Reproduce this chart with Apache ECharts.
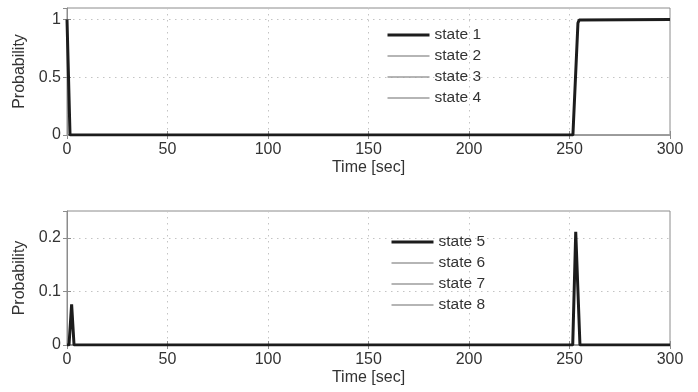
<!DOCTYPE html>
<html>
<head>
<meta charset="utf-8">
<script src="https://cdn.jsdelivr.net/npm/echarts@6/dist/echarts.min.js"></script>
<style>
  html, body { margin: 0; padding: 0; background: #ffffff; }
  #chart { width: 698px; height: 392px; }
</style>
</head>
<body>
<div id="chart"></div>
<script>
// State probabilities over time, [time in sec, probability]
const topNames = ['state 1', 'state 2', 'state 3', 'state 4'];
const bottomNames = ['state 5', 'state 6', 'state 7', 'state 8'];

const state1 = [[0, 1], [1.5, 0], [251.7, 0], [254.2, 0.97], [254.8, 0.995], [255.6, 1], [300, 1]];
const state2 = [[0, 0], [300, 0]];
const state3 = [[0, 0], [300, 0]];
const state4 = [[0, 0], [300, 0]];

const state5 = [[0, 0], [1, 0], [2.3, 0.076], [3.5, 0], [251.6, 0], [253.1, 0.211], [255.2, 0], [300, 0]];
const state6 = [[0, 0], [300, 0]];
const state7 = [[0, 0], [300, 0]];
const state8 = [[0, 0], [300, 0]];

const timeMin = 0, timeMax = 300, timeStep = 50;
const topYMax = 1.1, topYStep = 0.5;
const bottomYMax = 0.25, bottomYStep = 0.1;

const FONT = 'Liberation Sans, Arial, Helvetica, sans-serif';
const TEXT = '#333333';
const FRAME = '#8c8c8c';
const DARK = '#1c1c1c';
const GRAY = '#9c9c9c';

const dotted = { color: '#c4c4c4', width: 1, type: [1.5, 4.5] };

function xAxisFor(gridIndex) {
  return {
    type: 'value', gridIndex, min: timeMin, max: timeMax, interval: timeStep,
    name: 'Time [sec]', nameLocation: 'middle', nameGap: 25,
    nameTextStyle: { fontFamily: FONT, fontSize: 16, color: TEXT },
    axisLine: { show: true, onZero: false, lineStyle: { color: FRAME } },
    axisTick: { show: true, inside: true, length: 4, lineStyle: { color: FRAME } },
    axisLabel: { fontFamily: FONT, fontSize: 16, color: TEXT, margin: 7 },
    splitLine: { show: true, lineStyle: dotted }
  };
}
function xMirror(gridIndex) {
  return {
    type: 'value', gridIndex, min: timeMin, max: timeMax, interval: timeStep, position: 'top',
    axisLine: { show: false }, axisLabel: { show: false }, splitLine: { show: false },
    axisTick: { show: true, inside: true, length: 4, lineStyle: { color: FRAME } }
  };
}
function yAxisFor(gridIndex, max, step) {
  return {
    type: 'value', gridIndex, min: 0, max, interval: step,
    name: 'Probability', nameLocation: 'middle', nameGap: 35,
    nameTextStyle: { fontFamily: FONT, fontSize: 16, color: TEXT },
    axisLine: { show: true, lineStyle: { color: FRAME } },
    axisTick: { show: true, inside: true, length: 4, lineStyle: { color: FRAME } },
    axisLabel: { fontFamily: FONT, fontSize: 16, color: TEXT, margin: 6, showMaxLabel: false },
    splitLine: { show: true, lineStyle: dotted }
  };
}
function yMirror(gridIndex, max, step) {
  return {
    type: 'value', gridIndex, min: 0, max, interval: step, position: 'right',
    axisLine: { show: false }, axisLabel: { show: false }, splitLine: { show: false },
    axisTick: { show: true, inside: true, length: 4, lineStyle: { color: FRAME } }
  };
}

function lineSeries(name, data, xi, yi, dark) {
  return {
    type: 'line', name, data, xAxisIndex: xi, yAxisIndex: yi,
    symbol: 'none', showSymbol: false, animation: false,
    z: dark ? 5 : 3,
    lineStyle: { color: dark ? DARK : GRAY, width: dark ? 3 : 1.5 },
    itemStyle: { color: dark ? DARK : GRAY }
  };
}

function legendFor(names, left, top) {
  return {
    data: names.map((n, i) => ({ name: n, lineStyle: { width: i === 0 ? 3 : 1.5 } })),
    orient: 'vertical', left, top,
    itemWidth: 42, itemHeight: 14, itemGap: 5,
    itemStyle: { opacity: 0 },
    textStyle: { fontFamily: FONT, fontSize: 15.5, color: TEXT },
    backgroundColor: 'transparent', borderWidth: 0
  };
}

const chart = echarts.init(document.getElementById('chart'), null, { renderer: 'canvas' });
chart.setOption({
  backgroundColor: '#ffffff',
  animation: false,
  grid: [
    { left: 67, right: 28, top: 8, height: 127, show: true, borderColor: FRAME, borderWidth: 1, backgroundColor: 'transparent' },
    { left: 67, right: 28, top: 211, height: 134, show: true, borderColor: FRAME, borderWidth: 1, backgroundColor: 'transparent' }
  ],
  xAxis: [xAxisFor(0), xMirror(0), xAxisFor(1), xMirror(1)],
  yAxis: [yAxisFor(0, topYMax, topYStep), yMirror(0, topYMax, topYStep),
          yAxisFor(1, bottomYMax, bottomYStep), yMirror(1, bottomYMax, bottomYStep)],
  legend: [legendFor(topNames, 381, 22), legendFor(bottomNames, 385, 229)],
  series: [
    lineSeries(topNames[0], state1, 0, 0, true),
    lineSeries(topNames[1], state2, 0, 0, false),
    lineSeries(topNames[2], state3, 0, 0, false),
    lineSeries(topNames[3], state4, 0, 0, false),
    lineSeries(bottomNames[0], state5, 2, 2, true),
    lineSeries(bottomNames[1], state6, 2, 2, false),
    lineSeries(bottomNames[2], state7, 2, 2, false),
    lineSeries(bottomNames[3], state8, 2, 2, false)
  ]
});
</script>
</body>
</html>
